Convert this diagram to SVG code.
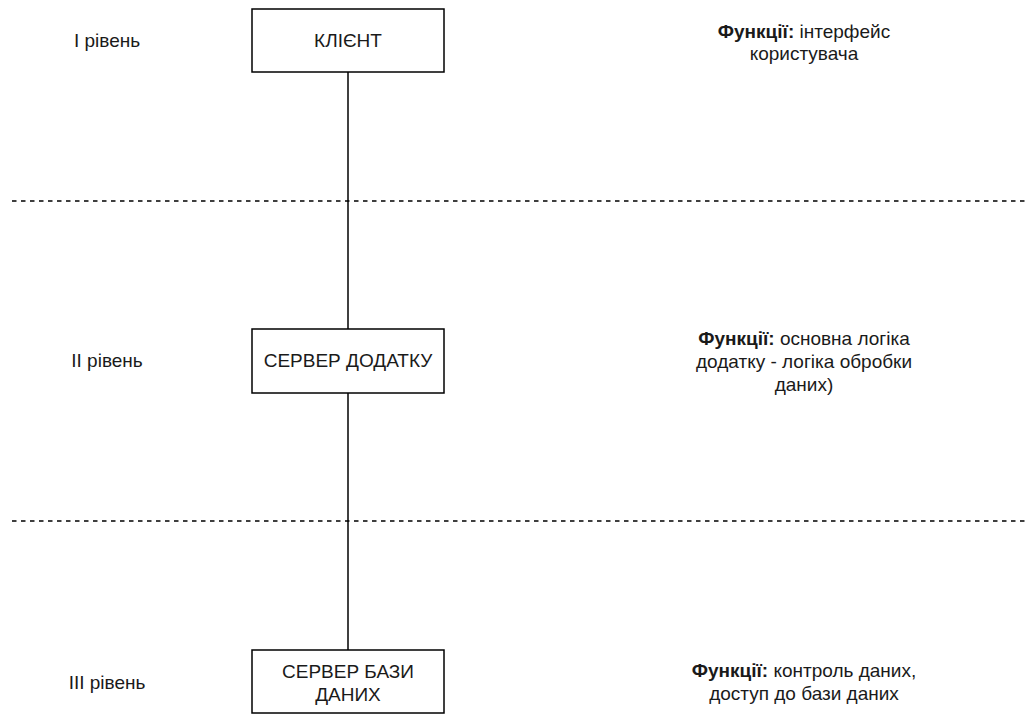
<svg xmlns="http://www.w3.org/2000/svg" width="1028" height="715" viewBox="0 0 1028 715">
<style>
text{font-family:"Liberation Sans",Arial,sans-serif;font-size:19px;fill:#1a1a1a;text-anchor:middle}
.b{font-weight:bold}
.box{fill:#fff;stroke:#000;stroke-width:1.5}
.edge{stroke:#000;stroke-width:1.5;fill:none}
.dash{stroke:#000;stroke-width:1.5;stroke-dasharray:4.5 4.5;fill:none}
</style>
<rect width="1028" height="715" fill="#fff"/>
<g id="separators">
<line class="dash" x1="12" y1="201" x2="1028" y2="201"/>
<line class="dash" x1="12" y1="521" x2="1028" y2="521"/>
</g>
<g id="connectors">
<line class="edge" x1="348" y1="72" x2="348" y2="329"/>
<line class="edge" x1="348" y1="393" x2="348" y2="650"/>
</g>
<g id="level1"><text x="107" y="47">I рівень</text></g>
<g id="level2"><text x="107" y="367">II рівень</text></g>
<g id="level3"><text x="107" y="689">III рівень</text></g>
<g id="client">
<rect class="box" x="252" y="9" width="192" height="63"/>
<text x="348" y="47">КЛІЄНТ</text>
</g>
<g id="appserver">
<rect class="box" x="252" y="329" width="192" height="64"/>
<text x="348" y="367">СЕРВЕР ДОДАТКУ</text>
</g>
<g id="dbserver">
<rect class="box" x="252" y="650" width="192" height="63"/>
<text x="348" y="678">СЕРВЕР БАЗИ</text>
<text x="348" y="701">ДАНИХ</text>
</g>
<g id="func1">
<text x="804" y="38"><tspan class="b">Функції:</tspan> інтерфейс</text>
<text x="804" y="60">користувача</text>
</g>
<g id="func2">
<text x="804" y="345"><tspan class="b">Функції:</tspan> основна логіка</text>
<text x="804" y="368">додатку - логіка обробки</text>
<text x="804" y="391">даних)</text>
</g>
<g id="func3">
<text x="804" y="677"><tspan class="b">Функції:</tspan> контроль даних,</text>
<text x="804" y="700">доступ до бази даних</text>
</g>
</svg>
